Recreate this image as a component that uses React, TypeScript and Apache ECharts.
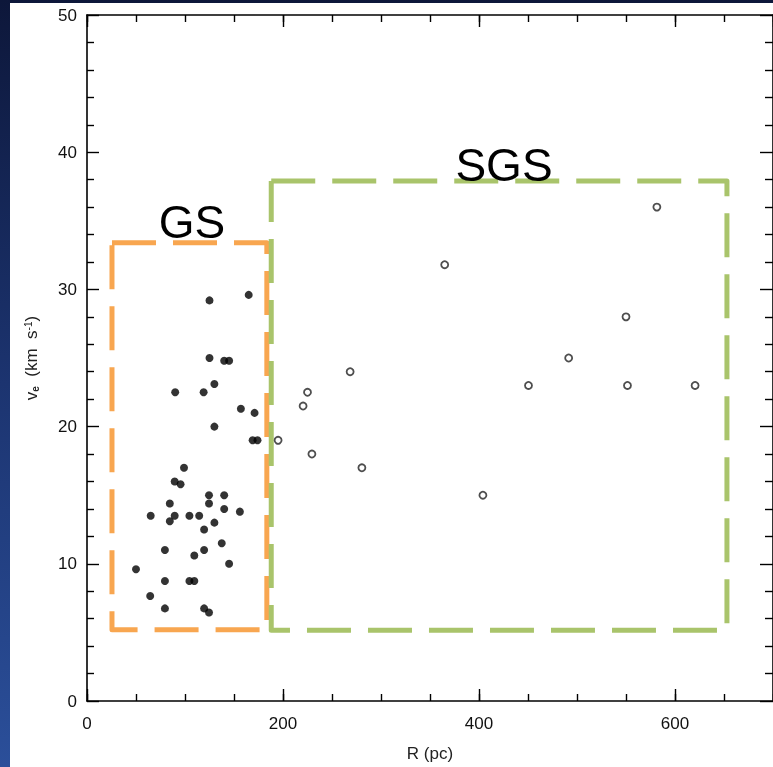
import React, { useEffect, useRef } from "react";
import * as echarts from "echarts";

// Giant shells (filled dots)
const gsX = [125, 165, 125, 140, 145, 130, 90, 119, 157, 171, 130, 169, 174, 99, 89.5, 95.5, 124.5, 140, 84.5, 124.5, 140, 156, 65, 89.5, 104.5, 114.5, 84.5, 130, 119.5, 137.5, 79.5, 119.5, 109.5, 145, 50, 79.5, 104.5, 109.5, 64.5, 79.5, 119.5, 124.5];
const gsY = [29.2, 29.6, 25.0, 24.8, 24.8, 23.1, 22.5, 22.5, 21.3, 21.0, 20.0, 19.0, 19.0, 17.0, 16.0, 15.8, 15.0, 15.0, 14.4, 14.4, 14.0, 13.8, 13.5, 13.5, 13.5, 13.5, 13.1, 13.0, 12.5, 11.5, 11.0, 11.0, 10.6, 10.0, 9.6, 8.75, 8.75, 8.75, 7.65, 6.75, 6.75, 6.45];

// Supergiant shells (open circles)
const sgsX = [268.5, 225, 220.5, 195, 229.5, 280.5, 581.5, 365, 550, 491.5, 450.5, 551.5, 620.5, 404];
const sgsY = [24.0, 22.5, 21.5, 19.0, 18.0, 17.0, 36.0, 31.8, 28.0, 25.0, 23.0, 23.0, 23.0, 15.0];

// Region boxes (data coordinates)
const gsBoxX = [25.5, 183.5, 183.5, 25.5, 25.5];
const gsBoxY = [33.4, 33.4, 5.2, 5.2, 33.4];
const sgsBoxX = [188, 653, 653, 188, 188];
const sgsBoxY = [37.9, 37.9, 5.15, 5.15, 37.9];

const xMajorTicks = [0, 200, 400, 600];
const FONT = "'Liberation Sans', Arial, Helvetica, sans-serif";

const zip = (xs: number[], ys: number[]) => xs.map((x, i) => [x, ys[i]]);

export default function App() {
  const ref = useRef<HTMLDivElement>(null);
  useEffect(() => {
    if (!ref.current) return;
    const chart = echarts.init(ref.current, null, { renderer: "svg" });
    const axisLine = { show: true, onZero: false, lineStyle: { color: "#000", width: 1.6 } };
    const tickStyle = { color: "#000", width: 1.4 };
    const xBase = { type: "value", min: 0, max: 700, splitLine: { show: false }, gridIndex: 0 };
    chart.setOption({
      animation: false,
      textStyle: { fontFamily: FONT },
      graphic: [
        {
          type: "rect",
          z: -20,
          silent: true,
          shape: { x: 0, y: 0, width: 773, height: 767 },
          style: {
            fill: new echarts.graphic.LinearGradient(0, 0, 0, 1, [
              { offset: 0, color: "#0d173a" },
              { offset: 0.5, color: "#1c3470" },
              { offset: 1, color: "#2b4f9a" },
            ]),
          },
        },
        {
          type: "rect",
          z: -19,
          silent: true,
          shape: { x: 10, y: 3, width: 763, height: 764 },
          style: { fill: "#ffffff" },
        },
        {
          type: "text",
          z: 100,
          x: 192,
          y: 222,
          style: { text: "GS", fontSize: 46, fontFamily: FONT, fill: "#000", align: "center", verticalAlign: "middle", textAlign: "center", textVerticalAlign: "middle" },
        },
        {
          type: "text",
          z: 100,
          x: 504,
          y: 165,
          style: { text: "SGS", fontSize: 46, fontFamily: FONT, fill: "#000", align: "center", verticalAlign: "middle", textAlign: "center", textVerticalAlign: "middle" },
        },
      ],
      grid: { left: 87, top: 15, right: -3, bottom: 64, containLabel: false },
      xAxis: [
        {
          ...xBase,
          position: "bottom",
          interval: 200,
          axisLine,
          axisTick: { show: true, inside: true, length: 12, lineStyle: tickStyle },
          axisLabel: {
            show: true,
            fontSize: 17,
            color: "#111",
            margin: 14,
            fontFamily: FONT,
            showMaxLabel: false,
            formatter: (v: number) => (xMajorTicks.includes(v) ? String(v) : ""),
          },
          name: "R (pc)",
          nameLocation: "middle",
          nameGap: 44,
          nameTextStyle: { fontSize: 17, color: "#222", fontFamily: FONT },
        },
        {
          ...xBase,
          position: "bottom",
          interval: 50,
          axisLine: { show: false, onZero: false },
          axisTick: { show: true, inside: true, length: 7, lineStyle: tickStyle },
          axisLabel: { show: false },
        },
        {
          ...xBase,
          position: "top",
          interval: 200,
          axisLine,
          axisTick: { show: true, inside: true, length: 12, lineStyle: tickStyle },
          axisLabel: { show: false },
        },
        {
          ...xBase,
          position: "top",
          interval: 50,
          axisLine: { show: false, onZero: false },
          axisTick: { show: true, inside: true, length: 7, lineStyle: tickStyle },
          axisLabel: { show: false },
        },
      ],
      yAxis: [
        {
          type: "value",
          position: "left",
          min: 0,
          max: 50,
          interval: 10,
          splitLine: { show: false },
          axisLine,
          axisTick: { show: true, inside: true, length: 12, lineStyle: tickStyle },
          minorTick: { show: true, splitNumber: 5, length: 7, lineStyle: tickStyle },
          axisLabel: { show: true, fontSize: 17, color: "#111", margin: 10, fontFamily: FONT },
          name: "v{sub|e}  (km  s{sup|-1})",
          nameLocation: "middle",
          nameGap: 47,
          nameTextStyle: {
            fontSize: 17,
            color: "#222",
            fontFamily: FONT,
            rich: {
              sub: { fontSize: 10, verticalAlign: "bottom", color: "#222", fontFamily: FONT, fontWeight: "bold" },
              sup: { fontSize: 10, verticalAlign: "top", color: "#222", fontFamily: FONT },
            },
          },
        },
        {
          type: "value",
          position: "right",
          min: 0,
          max: 50,
          interval: 10,
          splitLine: { show: false },
          axisLine,
          axisTick: { show: true, inside: true, length: 13, lineStyle: tickStyle },
          minorTick: { show: true, splitNumber: 5, length: 8, lineStyle: tickStyle },
          axisLabel: { show: false },
        },
      ],
      series: [
        {
          type: "line",
          name: "GS box",
          xAxisIndex: 0,
          yAxisIndex: 0,
          data: zip(gsBoxX, gsBoxY),
          symbol: "none",
          silent: true,
          z: 3,
          lineStyle: { color: "#F8A650", width: 5, type: [44, 17], cap: "butt", join: "round" },
        },
        {
          type: "line",
          name: "SGS box",
          xAxisIndex: 0,
          yAxisIndex: 0,
          data: zip(sgsBoxX, sgsBoxY),
          symbol: "none",
          silent: true,
          z: 4,
          lineStyle: { color: "#A9C46B", width: 5, type: [44, 17], cap: "butt", join: "round" },
        },
        {
          type: "scatter",
          name: "GS",
          xAxisIndex: 0,
          yAxisIndex: 0,
          data: zip(gsX, gsY),
          symbol: "circle",
          symbolSize: 8,
          z: 6,
          itemStyle: { color: "#000" },
        },
        {
          type: "scatter",
          name: "SGS",
          xAxisIndex: 0,
          yAxisIndex: 0,
          data: zip(sgsX, sgsY),
          symbol: "circle",
          symbolSize: 7,
          z: 6,
          itemStyle: { color: "#fff", borderColor: "#222", borderWidth: 1.8 },
        },
      ],
    });
    return () => chart.dispose();
  }, []);
  return (
    <div
      ref={ref}
      style={{ position: "fixed", left: 0, top: 0, width: 773, height: 767 }}
    />
  );
}
